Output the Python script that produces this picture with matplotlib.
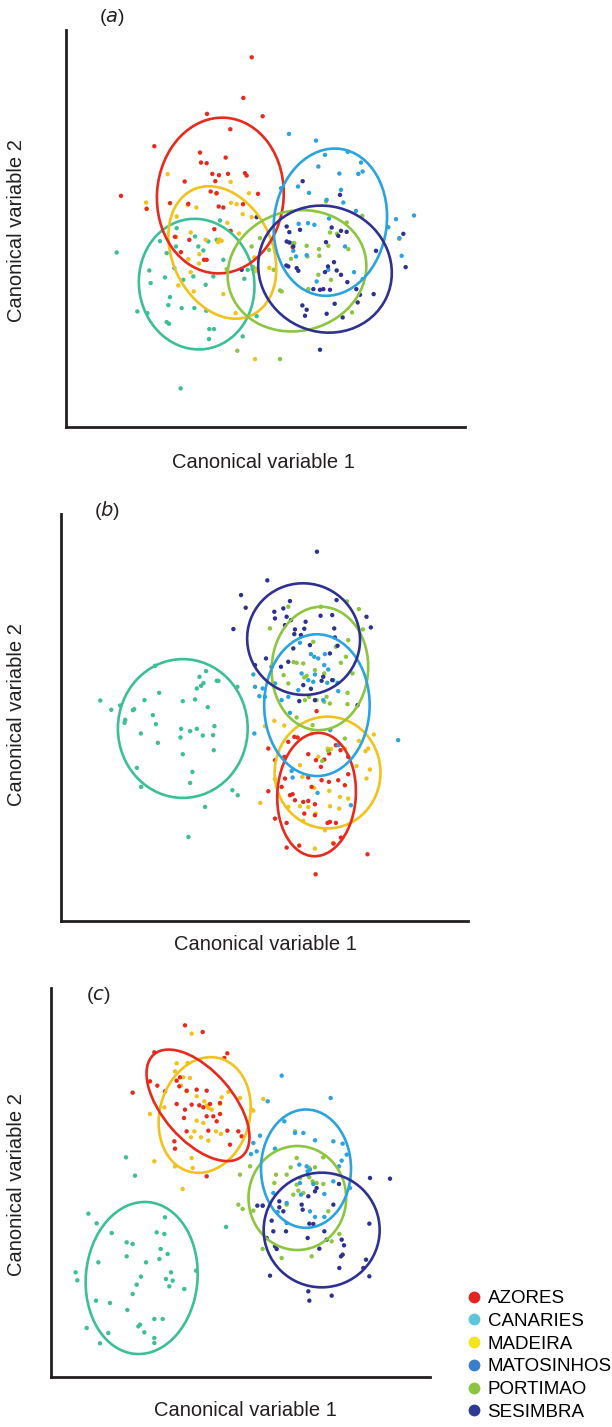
import matplotlib
matplotlib.use("Agg")
import matplotlib.pyplot as plt
from matplotlib.patches import Ellipse
from matplotlib.lines import Line2D

plt.rcParams['font.family'] = ['Liberation Sans', 'DejaVu Sans']

# ---------------- data (canonical scores, arbitrary units; y grows downward) -------------
groups = ["AZORES", "CANARIES", "MADEIRA", "MATOSINHOS", "PORTIMAO", "SESIMBRA"]
point_colors = ["#E8291C", "#3BBF97", "#F1C21B", "#2AA3DF", "#8CC63F", "#2E3192"]
legend_colors = ["#E52320", "#5CC6DA", "#F2E51A", "#3A7FCB", "#8BC53F", "#2E3A97"]

# Panel (a)
a_azores = [(575,112),(550,234),(441,282),(608,289),(511,328),(283,379),(183,528),(420,398),
            (497,413),(423,428),(440,430),(457,462),(477,466),(504,462),(555,460),(560,467),
            (374,485),(466,484),(452,515),(470,520),(594,522),(330,550),(385,552),(476,560),
            (490,563),(549,553),(260,567),(463,628),(512,633),(388,660),(345,651),(363,697),
            (432,720),(440,720),(698,682)]
a_canaries = [(170,698),(232,875),(262,880),(268,752),(272,790),(315,773),(300,664),(350,625),
              (405,650),(348,680),(415,680),(430,692),(445,665),(470,660),(480,602),(320,700),
              (343,745),(370,780),(400,770),(437,795),(490,720),(460,770),(330,832),(325,856),
              (365,865),(403,865),(320,907),(327,912),(448,928),(462,928),(447,958),(362,1106),
              (548,950),(578,746),(563,750),(553,777),(439,873),(590,889)]
a_madeira = [(323,463),(512,486),(258,548),(260,567),(383,556),(409,563),(468,521),(513,549),
             (530,553),(567,520),(548,583),(575,592),(502,609),(537,641),(478,659),(485,663),
             (437,660),(392,638),(349,652),(350,590),(418,703),(385,718),(417,731),(392,757),
             (583,713),(628,744),(591,747),(355,797),(401,815),(490,823),(586,754),(527,880),
             (585,1018),(474,667)]
a_matosinhos = [(687,342),(768,362),(795,405),(863,396),(775,440),(903,428),(908,455),(895,462),
                (838,461),(714,500),(747,519),(843,510),(850,548),(800,540),(888,573),(1008,598),
                (1062,587),(985,622),(1025,708),(1018,655),(744,610),(807,596),(763,615),(700,693),
                (708,710),(740,706),(855,680),(770,785),(805,750),(882,757),(908,778),(663,505),
                (716,612)]
a_portimao = [(600,655),(637,660),(695,670),(641,750),(660,812),(665,815),(693,717),(740,678),
              (777,688),(778,708),(742,710),(831,642),(805,678),(865,688),(810,638),(907,588),
              (1018,657),(745,808),(775,765),(813,780),(876,878),(532,993),(660,1018),(500,748),
              (580,742),(798,545),(860,608),(703,670),(575,680),(627,690)]
a_sesimbra = [(728,484),(840,525),(680,620),(688,637),(720,630),(843,633),(860,636),(798,667),
              (815,623),(680,665),(688,668),(700,680),(679,737),(685,740),(710,745),(715,753),
              (795,757),(804,740),(822,727),(830,752),(843,765),(862,787),(760,808),(780,810),
              (790,808),(810,810),(889,808),(900,825),(941,823),(893,848),(824,852),(727,857),
              (740,870),(735,888),(800,882),(848,893),(780,990),(1037,742),(1030,642),(948,693),
              (545,750),(590,592),(835,648)]
# ellipse: (centre x, centre y, width, height, angle)
a_ellipses = [(481,527,380,468,4),(410,793,346,393,-8),(487,698,300,416,-25),
              (811,607,338,444,8),(711,753,420,360,-15),(795,748,406,376,25)]

# Panel (b)
b_azores = [(785,633),(640,745),(660,780),(688,770),(700,725),(718,710),(728,712),(760,762),
            (783,780),(798,800),(808,778),(823,760),(843,735),(857,750),(880,770),(880,822),
            (640,873),(680,860),(713,882),(705,885),(720,900),(745,905),(760,902),(780,912),
            (800,840),(822,845),(850,840),(870,855),(780,945),(825,965),(818,968),(843,968),
            (695,968),(660,955),(695,1042),(733,1036),(836,1030),(858,1012),(690,835),(938,1062),
            (782,1122),(748,940),(770,860),(760,832)]
b_canaries = [(135,601),(168,629),(195,616),(233,630),(237,627),(210,659),(208,668),(268,600),
              (312,578),(300,497),(257,700),(293,645),(302,672),(308,728),(378,686),(376,712),
              (383,603),(420,598),(405,693),(425,686),(443,706),(478,678),(474,705),(476,750),
              (458,621),(433,530),(445,549),(438,557),(453,513),(485,542),(490,542),(547,560),
              (425,565),(383,762),(412,815),(405,848),(245,803),(258,860),(532,870),(548,885),
              (450,920),(400,1010)]
b_madeira = [(630,678),(658,662),(688,676),(828,747),(770,700),(735,795),(742,830),(790,770),
             (818,745),(870,745),(912,722),(957,703),(940,745),(932,753),(945,808),(935,835),
             (905,798),(880,895),(855,890),(853,925),(825,918),(782,940),(760,920),(735,918),
             (700,920),(660,837),(616,908),(745,962),(780,1045),(835,1028),(810,990),(823,872),
             (778,863)]
b_matosinhos = [(595,523),(600,560),(623,565),(613,588),(598,700),(630,590),(680,600),(700,590),
                (705,638),(730,570),(760,540),(735,428),(768,462),(778,470),(790,475),(810,462),
                (808,495),(780,523),(775,545),(820,508),(835,540),(848,548),(850,573),(817,548),
                (805,600),(826,690),(851,735),(788,878),(710,812),(713,832),(888,915),(1030,720),
                (660,550),(740,520)]
b_portimao = [(645,385),(700,320),(798,320),(876,304),(912,327),(924,388),(880,420),(873,470),
              (843,440),(775,425),(745,490),(780,510),(755,527),(748,532),(725,488),(686,525),
              (700,550),(808,520),(858,488),(893,520),(878,578),(878,612),(808,605),(785,600),
              (762,590),(815,590),(825,610),(725,652),(773,675),(870,715),(820,752),(802,782),
              (750,600),(716,486)]
b_sesimbra = [(786,155),(637,241),(558,285),(572,323),(535,387),(658,335),(685,325),(660,355),
              (705,303),(695,350),(708,360),(690,375),(720,388),(748,386),(752,365),(797,347),
              (838,385),(845,300),(832,345),(935,350),(948,382),(840,412),(848,437),(825,460),
              (765,435),(718,402),(738,405),(633,475),(650,500),(678,500),(700,485),(745,555),
              (768,566),(800,542),(805,530),(832,540),(733,603),(780,600),(908,615),(600,495),
              (715,445)]
b_ellipses = [(785,883,236,370,3),(383,685,390,416,0),(818,817,318,335,0),
              (786,615,317,425,0),(795,505,290,370,3),(746,417,340,334,20)]

# Panel (c)
c_azores = [(435,152),(488,172),(343,233),(562,236),(553,250),(278,354),(330,320),(352,333),
            (375,350),(410,318),(420,308),(418,335),(410,388),(440,348),(470,345),(500,348),
            (510,388),(540,385),(520,425),(540,418),(530,440),(478,392),(490,398),(435,405),
            (432,430),(403,500),(405,522),(440,470),(505,468),(562,468),(595,470),(605,485),
            (570,510),(500,605),(500,425),(455,390)]
c_canaries = [(145,717),(170,746),(215,775),(258,548),(285,603),(260,803),(278,808),(260,845),
              (175,863),(107,893),(112,917),(318,863),(303,906),(350,773),(373,778),(375,728),
              (362,823),(383,838),(358,853),(393,893),(378,913),(398,918),(388,935),(433,943),
              (290,930),(278,958),(168,978),(210,985),(262,1006),(140,1060),(205,1075),(180,1106),
              (343,1033),(368,1033),(295,1055),(300,1050),(313,1073),(343,1090),(343,1105),
              (468,888),(558,757)]
c_madeira = [(455,177),(410,266),(443,265),(405,290),(430,308),(450,310),(423,333),(440,350),
             (470,365),(493,380),(500,393),(505,400),(515,405),(545,368),(565,352),(540,388),
             (470,438),(463,470),(483,488),(453,488),(505,498),(528,470),(543,478),(455,550),
             (458,580),(405,575),(343,560),(428,643),(330,418),(373,398),(635,405),(640,408),
             (670,373),(600,370),(490,445)]
c_matosinhos = [(725,303),(872,370),(683,380),(733,440),(765,475),(790,475),(825,497),(880,500),
                (660,483),(640,505),(705,522),(650,530),(633,538),(908,507),(920,540),(905,558),
                (897,575),(778,570),(800,575),(810,585),(803,600),(780,625),(853,658),(820,628),
                (783,660),(740,685),(810,710),(825,727),(853,727),(740,745),(713,712),(668,693),
                (700,655),(880,620),(930,640),(803,590)]
c_portimao = [(600,600),(630,575),(595,690),(608,703),(640,708),(708,600),(703,625),(740,600),
              (752,578),(765,470),(770,550),(808,580),(825,578),(808,608),(830,625),(850,628),
              (770,630),(775,648),(790,655),(760,660),(740,690),(850,548),(865,710),(898,778),
              (875,800),(668,823),(725,850),(815,845),(818,620),(780,610)]
c_sesimbra = [(990,610),(1050,612),(652,693),(668,693),(718,680),(718,698),(730,710),(785,690),
              (788,705),(805,665),(825,650),(830,640),(808,747),(820,748),(853,770),(880,690),
              (897,628),(988,747),(695,738),(700,770),(680,790),(705,815),(738,770),(803,790),
              (838,822),(860,795),(905,795),(912,812),(903,845),(908,840),(898,880),(978,855),
              (970,880),(988,905),(690,903),(805,950),(808,978),(875,963),(710,823)]
c_ellipses = [(474,392,404,210,49),(305,910,335,457,5),(494,421,270,352,15),
              (798,582,270,355,0),(772,670,293,312,0),(845,766,348,344,0)]

panels = [
    dict(label="a", pts=[a_azores, a_canaries, a_madeira, a_matosinhos, a_portimao, a_sesimbra],
         ell=a_ellipses, box=(66, 30, 465, 427), xlim=(18, 1215), ylim=(1222, 30),
         title_xy=(112, 17), xlab_xy=(263, 463), ylab_xy=(17, 231)),
    dict(label="b", pts=[b_azores, b_canaries, b_madeira, b_matosinhos, b_portimao, b_sesimbra],
         ell=b_ellipses, box=(61, 514, 468, 921), xlim=(17, 1240), ylim=(1262, 42),
         title_xy=(107, 511), xlab_xy=(265, 945), ylab_xy=(17, 715)),
    dict(label="c", pts=[c_azores, c_canaries, c_madeira, c_matosinhos, c_portimao, c_sesimbra],
         ell=c_ellipses, box=(51, 988, 430, 1377), xlim=(33, 1170), ylim=(1207, 40),
         title_xy=(98, 995), xlab_xy=(245, 1410), ylab_xy=(17, 1185)),
]

W, H = 612, 1427
fig = plt.figure(figsize=(W / 100, H / 100), dpi=100)
axis_color = "#231F20"
draw_order = [1, 2, 0, 4, 3, 5]

for p in panels:
    l, t, r, b = p["box"]
    ax = fig.add_axes([l / W, 1 - b / H, (r - l) / W, (b - t) / H])
    ax.set_xlim(*p["xlim"])
    ax.set_ylim(*p["ylim"])
    for s in ("top", "right"):
        ax.spines[s].set_visible(False)
    for s in ("left", "bottom"):
        ax.spines[s].set_linewidth(2.0)
        ax.spines[s].set_color(axis_color)
    ax.set_xticks([])
    ax.set_yticks([])
    for gi in draw_order:
        xs = [q[0] for q in p["pts"][gi]]
        ys = [q[1] for q in p["pts"][gi]]
        ax.scatter(xs, ys, s=10, color=point_colors[gi], edgecolors="none", zorder=2)
    for gi in draw_order:
        cx, cy, w, h, ang = p["ell"][gi]
        ax.add_patch(Ellipse((cx, cy), w, h, angle=ang, fill=False,
                             edgecolor=point_colors[gi], linewidth=1.9, zorder=3))
    tx, ty = p["title_xy"]
    fig.text(tx / W, 1 - ty / H, "(" + r"$\it{" + p["label"] + "}$" + ")", fontsize=14,
             ha="center", va="center", color="#231F20")
    xx, xy = p["xlab_xy"]
    fig.text(xx / W, 1 - xy / H, "Canonical variable 1", fontsize=14.5, ha="center",
             va="center", color="#231F20")
    yx, yy = p["ylab_xy"]
    fig.text(yx / W, 1 - yy / H, "Canonical variable 2", fontsize=14.5, ha="center",
             va="center", rotation=90, color="#231F20")

handles = [Line2D([], [], linestyle="none", marker="o", markersize=8.5,
                  markerfacecolor=c, markeredgecolor="none") for c in legend_colors]
fig.legend(handles, groups, loc="upper left", bbox_to_anchor=(466 / W, 1 - 1290 / H),
           frameon=False, fontsize=13.5, handletextpad=0.25, labelspacing=0.3,
           handlelength=0.9, borderpad=0, borderaxespad=0)

fig.savefig("out.png", dpi=100)
